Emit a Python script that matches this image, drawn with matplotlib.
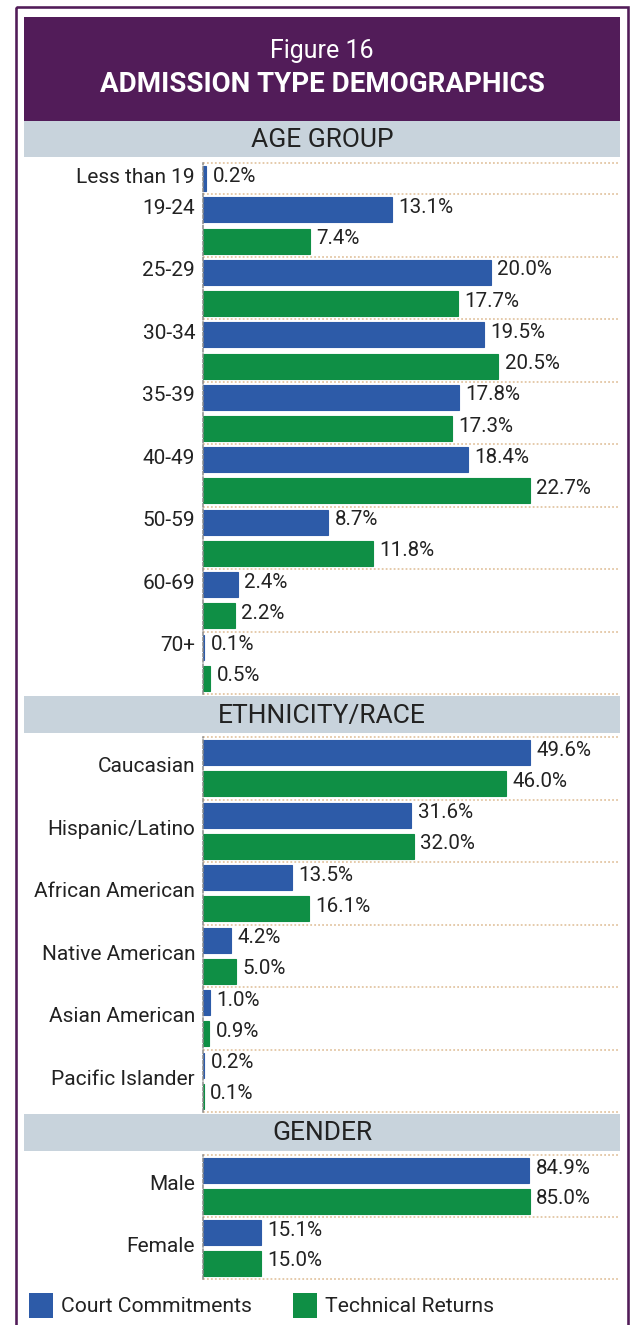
import matplotlib.pyplot as plt
from matplotlib.patches import Rectangle

plt.rcParams['font.family'] = ['Roboto', 'DejaVu Sans']

W, H = 631, 1325

# admission shares (%), court commitments vs technical returns
age_groups = ["Less than 19", "19-24", "25-29", "30-34", "35-39",
              "40-49", "50-59", "60-69", "70+"]
court_age = [0.2, 13.1, 20.0, 19.5, 17.8, 18.4, 8.7, 2.4, 0.1]
tech_age = [None, 7.4, 17.7, 20.5, 17.3, 22.7, 11.8, 2.2, 0.5]

races = ["Caucasian", "Hispanic/Latino", "African American",
         "Native American", "Asian American", "Pacific Islander"]
court_race = [49.6, 31.6, 13.5, 4.2, 1.0, 0.2]
tech_race = [46.0, 32.0, 16.1, 5.0, 0.9, 0.1]

genders = ["Male", "Female"]
court_gender = [84.9, 15.1]
tech_gender = [85.0, 15.0]

BLUE = "#2d5ba8"
GREEN = "#0f8f45"
PURPLE = "#521c59"
BAND = "#c8d3dc"
TEXT = "#222222"
GRID = "#e3c6a4"
PX = 0.72  # points per pixel at 100 dpi

fig = plt.figure(figsize=(W / 100, H / 100), dpi=100)

# background layer in pixel coordinates
bg = fig.add_axes([0, 0, 1, 1])
bg.set_xlim(0, W)
bg.set_ylim(H, 0)
bg.axis('off')

bg.add_patch(Rectangle((15.5, 7), 612.5, 1340, fill=False, ec=PURPLE, lw=2.6 * PX))
bg.add_patch(Rectangle((24, 17), 596, 104, fc=PURPLE, ec='none'))
bg.text(322, 51, "Figure 16", color='white', fontsize=18, ha='center', va='center')
bg.text(322, 84, "ADMISSION TYPE DEMOGRAPHICS", color='white', fontsize=20,
        fontweight='bold', ha='center', va='center')


def band(y0, y1, title):
    bg.add_patch(Rectangle((24, y0), 596, y1 - y0, fc=BAND, ec='none'))
    bg.text(322, (y0 + y1) / 2 + 1, title, color=TEXT, fontsize=19,
            ha='center', va='center')


def px_axes(x0, y0, x1, y1):
    return fig.add_axes([x0 / W, 1 - y1 / H, (x1 - x0) / W, (y1 - y0) / H])


def section(top, bottom, labels, court, tech, centre_labels):
    ax = px_axes(203, top, 618, bottom)
    slot = 0
    bounds = [0]
    for lab, c, t in zip(labels, court, tech):
        first = slot
        for v, col in ((c, BLUE), (t, GREEN)):
            if v is None:
                continue
            y = slot + 0.5
            ax.barh(y, v, height=0.8, color=col, ec=col, lw=0.8)
            ax.annotate(f"{v:.1f}%", (v, y), xytext=(6.5 * PX, -3 * PX),
                        textcoords='offset points', va='baseline',
                        fontsize=14.8, color=TEXT)
            slot += 1
        anchor = (first + slot) / 2 if centre_labels else first + 0.5
        ax.annotate(lab, (0, anchor), xycoords=('axes fraction', 'data'),
                    xytext=(-8 * PX, -4 * PX), textcoords='offset points',
                    ha='right', va='baseline', fontsize=15, color=TEXT)
        bounds.append(slot)
    for b in bounds:
        ax.axhline(b, color=GRID, lw=1.3, ls=(0, (1, 1.2)), clip_on=False, zorder=0)
    vals = [v for v in court + tech if v is not None]
    ax.set_xlim(0, max(vals) * 1.27)
    ax.set_ylim(slot, 0)
    for s in ('top', 'right', 'bottom'):
        ax.spines[s].set_visible(False)
    ax.spines['left'].set_color('#8a8a8a')
    ax.spines['left'].set_linewidth(1.1)
    ax.spines['left'].set_linestyle((0, (2, 1.5)))
    ax.spines['left'].set_zorder(5)
    ax.set_xticks([])
    ax.set_yticks([])
    ax.patch.set_alpha(0)
    return ax


band(121, 157, "AGE GROUP")
section(163, 694, age_groups, court_age, tech_age, False)

band(696, 733, "ETHNICITY/RACE")
section(737, 1112, races, court_race, tech_race, True)

band(1114, 1151, "GENDER")
section(1155, 1279, genders, court_gender, tech_gender, True)

# legend
bg.add_patch(Rectangle((29, 1293), 24, 25, fc=BLUE, ec='none'))
bg.text(61, 1306, "Court Commitments", color=TEXT, fontsize=15.2, va='center')
bg.add_patch(Rectangle((293, 1293), 24, 25, fc=GREEN, ec='none'))
bg.text(325, 1306, "Technical Returns", color=TEXT, fontsize=15.2, va='center')

fig.savefig("out.png", dpi=100)
